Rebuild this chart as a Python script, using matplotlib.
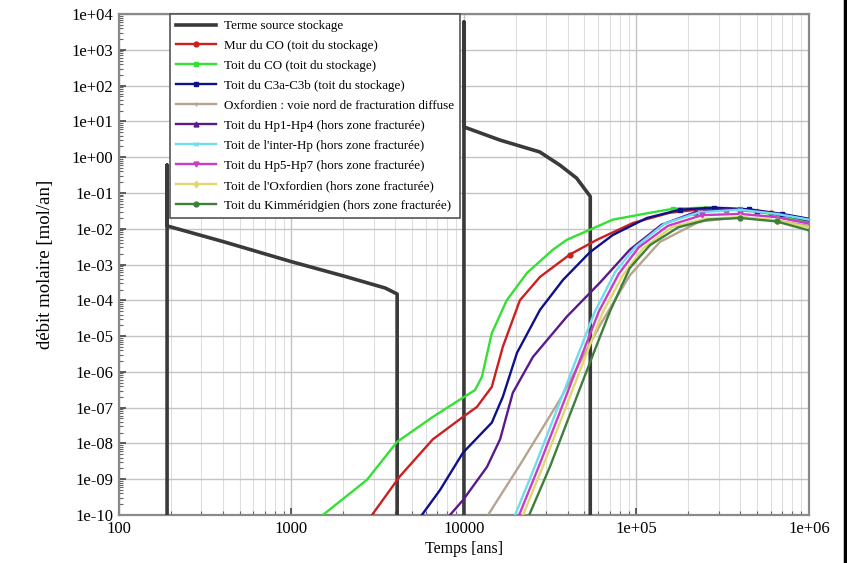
import matplotlib
matplotlib.use("Agg")
import matplotlib.pyplot as plt
from matplotlib.lines import Line2D
from matplotlib.ticker import FixedLocator, NullFormatter, LogLocator

plt.rcParams['font.family'] = ['Liberation Serif', 'DejaVu Serif']

# Terme source stockage
t_source = [190, 190, 190, 400, 1000, 2000, 3500, 4100, 4100,
            10000, 10000, 10000, 16200, 27500, 36000, 45000, 54000, 54000]
v_source = [1e-11, 0.6, 1.2e-2, 4.4e-3, 1.2e-3, 4.8e-4, 2.2e-4, 1.5e-4, 1e-11,
            1e-11, 6000, 7.0, 3.0, 1.4, 0.6, 0.26, 0.08, 1e-11]

# Mur du CO
t_red = [2930, 4250, 6600, 9870, 11900, 14500, 16800, 21100, 27600, 41100,
         59000, 95500, 156000, 250000, 400000, 600000, 1000000]
v_red = [1e-10, 1.2e-9, 1.3e-8, 5.5e-8, 1.05e-7, 3.8e-7, 5e-6, 1e-4, 4.5e-4, 1.9e-3,
         4.9e-3, 1.45e-2, 2.8e-2, 3.6e-2, 3.5e-2, 2.7e-2, 1.6e-2]

# Toit du CO
t_green = [1520, 2740, 4090, 6600, 9870, 11600, 12700, 14500, 17700, 23200, 32800,
           39500, 73000, 125000, 163000, 250000, 400000, 600000, 1000000]
v_green = [1e-10, 9.6e-10, 1.1e-8, 5.5e-8, 1.9e-7, 3.1e-7, 7.2e-7, 1.2e-5, 1e-4, 5.8e-4, 2.6e-3,
           4.9e-3, 1.8e-2, 2.9e-2, 3.6e-2, 3.9e-2, 3.5e-2, 2.6e-2, 1.5e-2]

# Toit du C3a-C3b
t_blue = [5700, 7270, 9870, 14500, 16800, 20300, 27600, 37500, 53700, 73000,
          115000, 179000, 280000, 450000, 700000, 1000000]
v_blue = [1e-10, 5e-10, 5.5e-9, 3.8e-8, 2e-7, 3.4e-6, 5.4e-5, 3.7e-4, 2.2e-3, 6.7e-3,
          2e-2, 3.4e-2, 3.9e-2, 3.5e-2, 2.6e-2, 1.9e-2]

# Oxfordien voie nord
t_tan = [13800, 21100, 36100, 61400, 91600, 137000, 233000, 400000, 650000, 1000000]
v_tan = [1e-10, 2.5e-9, 1.7e-7, 2e-5, 5e-4, 4.3e-3, 1.6e-2, 2.1e-2, 1.7e-2, 1.2e-2]

# Hp1-Hp4
t_purple = [8300, 9870, 13600, 16200, 19200, 25100, 39500, 61400, 91600, 140000,
            220000, 330000, 500000, 750000, 1000000]
v_purple = [1e-10, 2.6e-10, 2.2e-9, 1.3e-8, 2.6e-7, 2.6e-6, 3.5e-5, 3.1e-4, 2.6e-3, 1.3e-2,
            2.9e-2, 3.5e-2, 3.1e-2, 2.3e-2, 1.7e-2]

# inter-Hp
t_cyan = [19800, 25800, 33700, 44000, 57400, 75000, 98000, 146000, 233000, 398000, 650000, 1000000]
v_cyan = [1e-10, 2.3e-9, 6.3e-8, 1.8e-6, 4.8e-5, 6e-4, 3e-3, 1.4e-2, 2.9e-2, 3.4e-2, 2.6e-2, 1.8e-2]

# Hp5-Hp7
t_mag = [20900, 27200, 35500, 46400, 60500, 79000, 103000, 152000, 240000, 400000, 650000, 1000000]
v_mag = [1e-10, 2.3e-9, 6.3e-8, 1.8e-6, 4.8e-5, 5.5e-4, 3e-3, 1.2e-2, 2.4e-2, 2.6e-2, 2.1e-2, 1.4e-2]

# Oxfordien hors zone
t_yel = [22000, 28700, 37500, 49000, 64000, 83500, 109000, 160000, 250000, 400000, 650000, 1000000]
v_yel = [1e-10, 2.3e-9, 6.3e-8, 1.8e-6, 4.8e-5, 5e-4, 2.8e-3, 1.1e-2, 1.9e-2, 2.1e-2, 1.7e-2, 1.1e-2]

# Kimmeridgien
t_kim = [23900, 31600, 41100, 53700, 70100, 91600, 120000, 175000, 260000, 400000, 650000, 1000000]
v_kim = [1e-10, 2.3e-9, 6.3e-8, 1.8e-6, 4.8e-5, 8e-4, 3.5e-3, 1.1e-2, 1.8e-2, 2e-2, 1.6e-2, 9e-3]

series = [
    (t_red, v_red, '#cc2020', 'o', "Mur du CO (toit du stockage)", [9, 13, 15]),
    (t_green, v_green, '#33e033', 's', "Toit du CO (toit du stockage)", [14, 16]),
    (t_blue, v_blue, '#10108a', 's', "Toit du C3a-C3b (toit du stockage)", [11, 12, 13, 14]),
    (t_tan, v_tan, '#b5a58f', '+', "Oxfordien : voie nord de fracturation diffuse", [6, 7]),
    (t_purple, v_purple, '#5a1a8c', '^', "Toit du Hp1-Hp4 (hors zone fracturée)", [10, 11, 12]),
    (t_cyan, v_cyan, '#6fdcef', 'x', "Toit de l'inter-Hp (hors zone fracturée)", [8, 9]),
    (t_mag, v_mag, '#c83cc8', 'v', "Toit du Hp5-Hp7 (hors zone fracturée)", [8, 9]),
    (t_yel, v_yel, '#e0d86a', 'd', "Toit de l'Oxfordien (hors zone fracturée)", [9, 10]),
    (t_kim, v_kim, '#3f7f3a', 'o', "Toit du Kimméridgien (hors zone fracturée)", [9, 10]),
]

fig = plt.figure(figsize=(8.47, 5.63), dpi=100)
ax = fig.add_axes([0.1405, 0.0853, 0.8145, 0.8897])

ax.plot(t_source, v_source, color='#3a3a3a', lw=2.6, label="Terme source stockage", zorder=3)
for t, v, c, m, lab, mk in series:
    ax.plot(t, v, color=c, lw=1.7, marker=m, markersize=3.5, markevery=mk,
            label=lab, zorder=4)

ax.set_xscale('log')
ax.set_yscale('log')
ax.set_xlim(100, 1e6)
ax.set_ylim(1e-10, 1e4)

xt = [1e2, 1e3, 1e4, 1e5, 1e6]
ax.xaxis.set_major_locator(FixedLocator(xt))
ax.set_xticklabels(["100", "1000", "10000", "1e+05", "1e+06"])
ax.xaxis.set_minor_locator(LogLocator(base=10, subs=range(2, 10), numticks=20))
ax.xaxis.set_minor_formatter(NullFormatter())

yt = [10.0 ** k for k in range(-10, 5)]
ax.yaxis.set_major_locator(FixedLocator(yt))
ax.set_yticklabels(["1e-10", "1e-09", "1e-08", "1e-07", "1e-06", "1e-05", "1e-04", "1e-03",
                    "1e-02", "1e-01", "1e+00", "1e+01", "1e+02", "1e+03", "1e+04"])
ax.yaxis.set_minor_locator(LogLocator(base=10, subs=range(2, 10), numticks=30))
ax.yaxis.set_minor_formatter(NullFormatter())

ax.grid(True, which='major', color='#c4c4c4', lw=1.0)
ax.xaxis.grid(True, which='minor', color='#dedede', lw=0.8)
ax.set_axisbelow(True)
ax.tick_params(which='major', direction='in', length=5, width=1.2, color='#444444', labelsize=12, pad=4)
ax.tick_params(which='minor', direction='in', length=3, width=0.8, color='#666666')
for s in ax.spines.values():
    s.set_color('#8a8a8a')
    s.set_linewidth(1.6)

ax.set_xlabel("Temps [ans]", fontsize=11.5, labelpad=3)
ax.set_ylabel("débit molaire [mol/an]", fontsize=13.5, labelpad=13)

leg = ax.legend(loc='upper left', bbox_to_anchor=(0.074, 1.0), borderaxespad=0,
                fontsize=9.4, handlelength=3.1, handletextpad=0.55, labelspacing=0.6,
                fancybox=False, framealpha=1, edgecolor='#555555', borderpad=0.45)
leg.get_frame().set_linewidth(1.2)

fig.add_artist(Line2D([0.9975, 0.9975], [0, 1], color='black', lw=2.5))

fig.savefig("out.png", dpi=100)
